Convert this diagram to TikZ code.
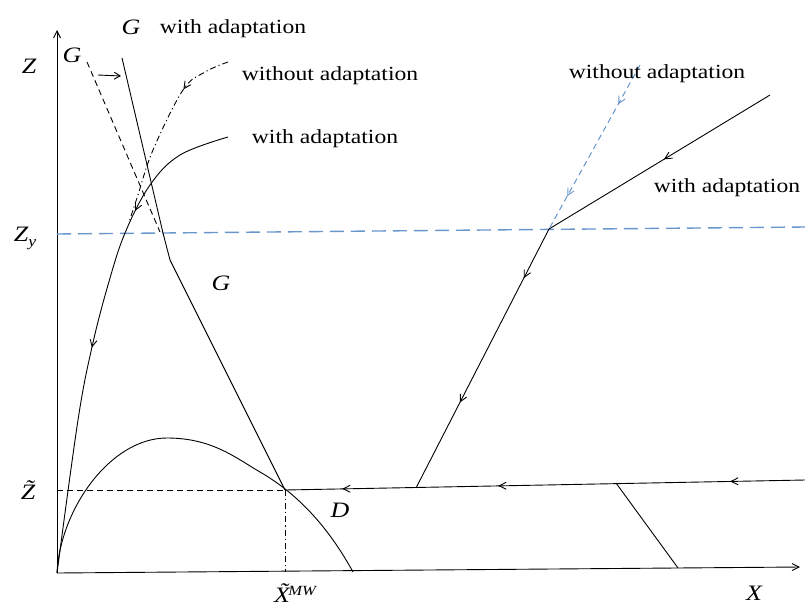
\documentclass[tikz,border=0pt]{standalone}
\usepackage{fontspec}
\usepackage{graphicx}
\setmainfont{Liberation Serif}
\usetikzlibrary{arrows.meta,decorations.markings}
\newcommand\hstr[1]{\scalebox{1.18}[1]{#1}}
\tikzset{
  line/.style={black, line width=0.9pt},
  midarr/.style={postaction={decorate,decoration={markings,
      mark=at position #1 with {\arrow{Straight Barb[length=7pt,width=7pt,line width=0.9pt]}}}}},
  lbl/.style={font=\fontsize{20}{22}\selectfont, inner sep=1pt},
  mlbl/.style={font=\fontsize{22}{24}\selectfont\itshape, inner sep=1pt},
  bluedash/.style={color={rgb,255:red,105;green,150;blue,205}, line width=1.4pt, dash pattern=on 14pt off 7pt},
  bluedashthin/.style={color={rgb,255:red,105;green,150;blue,205}, line width=1pt, dash pattern=on 6pt off 4pt},
  dashblack/.style={black, line width=0.9pt, dash pattern=on 6pt off 4pt},
  dashdot/.style={black, line width=0.9pt, dash pattern=on 6pt off 3pt on 1.2pt off 3pt},
}
\begin{document}
\begin{tikzpicture}[x=1pt,y=-1pt]
\useasboundingbox (0,0) rectangle (805,613);
% coordinates
\coordinate (O) at (57,573);
\coordinate (Ytop) at (57,30);
\coordinate (Xend) at (800,567);
\coordinate (ZyL) at (57,234);
\coordinate (ZyR) at (805,227);
\coordinate (E) at (285,490);
\coordinate (Ebot) at (285,572);
\coordinate (ZtL) at (57,490);
\coordinate (Dend) at (805,480);
\coordinate (K) at (549,229);
\coordinate (Rtop) at (770,95);
\coordinate (RBtop) at (640,65);
\coordinate (Rbot) at (416,488);
\coordinate (Sa) at (616,483);
\coordinate (Sb) at (678,568);
\coordinate (G1) at (122,58);
\coordinate (G2) at (163,233);
\coordinate (G3) at (170,260);
\coordinate (Gd1) at (87,62);
\coordinate (Gd2) at (160,232);
\coordinate (Aa) at (98,75);
\coordinate (Ab) at (121,76);
\coordinate (Hpk) at (167,438);
\coordinate (Hb) at (260,472);
\coordinate (Hend) at (353,572);

% axes
\draw[line,-{Straight Barb[length=7pt,width=7pt]}] (O) -- (Ytop);
\draw[line,-{Straight Barb[length=7pt,width=7pt]}] (O) -- (Xend);

% Zy line
\draw[bluedash] (ZyL) -- (ZyR);
% Z tilde dashed
\draw[dashblack] (ZtL) -- (E);
% X MW dash-dot
\draw[dashdot] (E) -- (Ebot);

% G lines
\draw[line] (G1) -- (G2) -- (G3) -- (E);
\draw[dashblack] (Gd1) -- (Gd2);
\draw[line,-{Straight Barb[length=6pt,width=7pt]}] (Aa) -- (Ab);

% with adaptation left curve
\draw[line,midarr=0.25,midarr=0.54] plot[smooth,tension=0.6] coordinates
  {(228,137) (180,155) (150,185) (125,233) (108,285) (92,347) (78,420) (57,573)};
% without adaptation dash-dot curve
\draw[dashdot,midarr=0.27] plot[smooth,tension=0.6] coordinates
  {(228,62) (205,72) (183,90) (153,150) (137,198) (129,222)};

% hump curve
\draw[line] (O) .. controls (60,510) and (110,438) .. (Hpk)
  .. controls (212,438) and (236,458) .. (Hb)
  .. controls (300,495) and (330,530) .. (Hend);

% right lines
\draw[line,midarr=0.48] (Rtop) -- (K);
\draw[line,midarr=0.19,midarr=0.67] (K) -- (Rbot);
\draw[bluedashthin,midarr=0.24,midarr=0.8] (RBtop) -- (K);

% D line
\draw[line,midarr=0.144,midarr=0.59,midarr=0.89] (Dend) -- (E);
\draw[line] (Sa) -- (Sb);

% labels
\node[mlbl] (lZ) at (29,66) {\hstr{Z}};
\node[mlbl] (lX) at (754,593) {\hstr{X}};
\node[mlbl] (lZy) at (25,238) {\hstr{Z\raisebox{-5pt}{\fontsize{15}{16}\selectfont y}}};
\node[mlbl] (lZt) at (28,490) {\hstr{\~Z}};
\node[mlbl] (lXmw) at (295,593) {\hstr{\~X\kern-1.5pt\raisebox{7pt}{\fontsize{14}{15}\selectfont MW}}};
\node[mlbl] (lD) at (340,510) {\hstr{D}};
\node[mlbl] (lGm) at (221,283) {\hstr{G}};
\node[mlbl] (lGt) at (131,27) {\hstr{G}};
\node[mlbl] (lGl) at (72,55) {\hstr{G}};
\node[lbl] (t1) at (233,29) {\hstr{with adaptation}};
\node[lbl] (t2) at (330,76) {\hstr{without adaptation}};
\node[lbl] (t3) at (325,139) {\hstr{with adaptation}};
\node[lbl] (t4) at (657,74) {\hstr{without adaptation}};
\node[lbl] (t5) at (727,188) {\hstr{with adaptation}};
\end{tikzpicture}
\end{document}
